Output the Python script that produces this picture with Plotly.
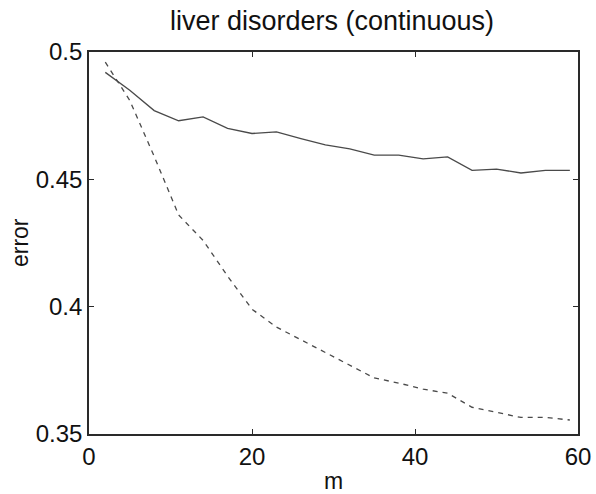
import plotly.graph_objects as go

m_values = [2, 5, 8, 11, 14, 17, 20, 23, 26, 29, 32, 35, 38, 41, 44, 47, 50, 53, 56, 59]
error_solid = [0.492, 0.485, 0.477, 0.473, 0.4745, 0.470, 0.468, 0.4686, 0.466, 0.4635,
               0.462, 0.4595, 0.4595, 0.458, 0.4588, 0.4535, 0.454, 0.4525, 0.4535, 0.4535]
error_dashed = [0.496, 0.481, 0.459, 0.436, 0.426, 0.412, 0.399, 0.392, 0.387, 0.382,
                0.377, 0.372, 0.370, 0.3676, 0.366, 0.3605, 0.3585, 0.3565, 0.3565, 0.3555]
x_ticks = [0, 20, 40, 60]
y_ticks = [0.35, 0.4, 0.45, 0.5]
y_ticklabels = ["0.35", "0.4", "0.45", "0.5"]

FONT = "Liberation Sans, Arial, Helvetica, sans-serif"
TXT = "#111111"

fig = go.Figure()
fig.add_trace(go.Scatter(x=m_values, y=error_solid, mode="lines",
                         line=dict(color="#4a4a4a", width=1.3, dash="solid"),
                         showlegend=False))
fig.add_trace(go.Scatter(x=m_values, y=error_dashed, mode="lines",
                         line=dict(color="#4a4a4a", width=1.3, dash="5px,5px"),
                         showlegend=False))

axis_common = dict(showline=True, linecolor="#2a2a2a", linewidth=1.6, mirror="ticks",
                   ticks="inside", ticklen=5, tickcolor="#2a2a2a", tickwidth=1,
                   showgrid=False, zeroline=False, automargin=False,
                   tickfont=dict(family=FONT, size=24, color=TXT))

fig.update_layout(
    width=596, height=494,
    paper_bgcolor="white", plot_bgcolor="white",
    margin=dict(l=89, r=18, t=52, b=60),
    title=dict(text="liver disorders (continuous)", x=0.557, xanchor="center",
               y=0.958, yanchor="middle",
               font=dict(family=FONT, size=27, color=TXT)),
    xaxis=dict(range=[0, 60], tickvals=x_ticks, **axis_common),
    yaxis=dict(range=[0.35, 0.5], tickvals=y_ticks, ticktext=y_ticklabels, **axis_common),
    annotations=[
        dict(text="m", xref="paper", yref="paper", x=0.5, y=-0.123,
             xanchor="center", yanchor="middle", showarrow=False,
             font=dict(family=FONT, size=23, color=TXT)),
        dict(text="error", xref="paper", yref="paper", x=-0.141, y=0.5,
             xanchor="center", yanchor="middle", showarrow=False, textangle=-90,
             font=dict(family=FONT, size=23, color=TXT)),
    ],
)

fig.write_html("out.html", config={"displayModeBar": False},
               post_script="document.body.style.margin='0';document.body.style.overflow='hidden';")
